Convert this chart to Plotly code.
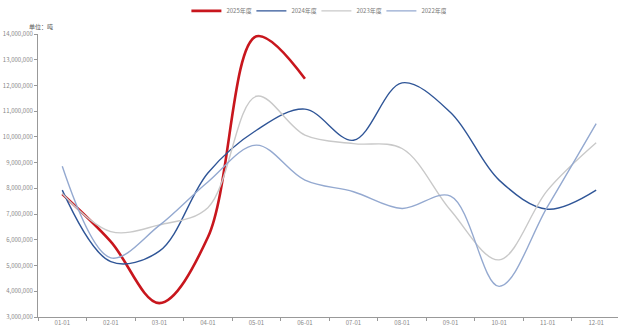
import plotly.graph_objects as go

categories = ["01-01", "02-01", "03-01", "04-01", "05-01", "06-01",
              "07-01", "08-01", "09-01", "10-01", "11-01", "12-01"]

y2025 = [7780000, 5930000, 3540000, 6100000, 13910000, 12260000]
y2024 = [7930000, 5150000, 5560000, 8600000, 10260000, 11080000,
         9870000, 12100000, 10950000, 8320000, 7190000, 7930000]
y2023 = [7800000, 6320000, 6580000, 7250000, 11580000, 10070000,
         9740000, 9550000, 7150000, 5220000, 7930000, 9770000]
y2022 = [8860000, 5300000, 6560000, 8250000, 9680000, 8320000,
         7870000, 7220000, 7700000, 4190000, 7300000, 10520000]

series = [
    ("2025年度", y2025, "#c8161d", 2.6),
    ("2024年度", y2024, "#2f5597", 1.4),
    ("2023年度", y2023, "#c9c9c9", 1.4),
    ("2022年度", y2022, "#94a9d0", 1.4),
]

fig = go.Figure()
for name, vals, color, width in series:
    fig.add_trace(go.Scatter(
        x=categories[:len(vals)], y=vals, name=name, mode="lines",
        line=dict(color=color, width=width, shape="spline", smoothing=1.0),
        hoverinfo="skip",
    ))

font_family = "Noto Sans CJK SC, Noto Sans, sans-serif"

fig.update_layout(
    width=618, height=329,
    margin=dict(l=38, r=0, t=33.5, b=11.7, autoexpand=False),
    paper_bgcolor="white", plot_bgcolor="white",
    font=dict(family=font_family, size=6, color="#888"),
    showlegend=True,
    legend=dict(orientation="h", x=0.48, xanchor="center", y=0.967,
                yanchor="middle", yref="container",
                font=dict(size=6, color="#777"), itemwidth=30,
                entrywidth=20, entrywidthmode="pixels",
                tracegroupgap=0, bgcolor="rgba(0,0,0,0)"),
    xaxis=dict(type="category", categoryorder="array", categoryarray=categories,
               range=[-0.5, 11.45], showgrid=False, zeroline=False,
               showline=True, linecolor="#999", linewidth=1,
               ticks="outside", tickson="boundaries", ticklen=3, tickcolor="#999",
               tickfont=dict(size=6, color="#888")),
    yaxis=dict(range=[3000000, 14000000], dtick=1000000, tickformat=",",
               showgrid=False, zeroline=False, showline=True,
               linecolor="#999", linewidth=1, ticks="outside", ticklen=3,
               tickcolor="#999", tickfont=dict(size=6, color="#888")),
    annotations=[dict(text="单位：吨", xref="paper", yref="paper",
                      x=-0.019, y=1.002, xanchor="left", yanchor="bottom",
                      showarrow=False, font=dict(size=6, color="#555"))],
)

fig.write_html("out.html", config={"displayModeBar": False},
               post_script="document.body.style.margin='0';document.body.style.padding='0';")
